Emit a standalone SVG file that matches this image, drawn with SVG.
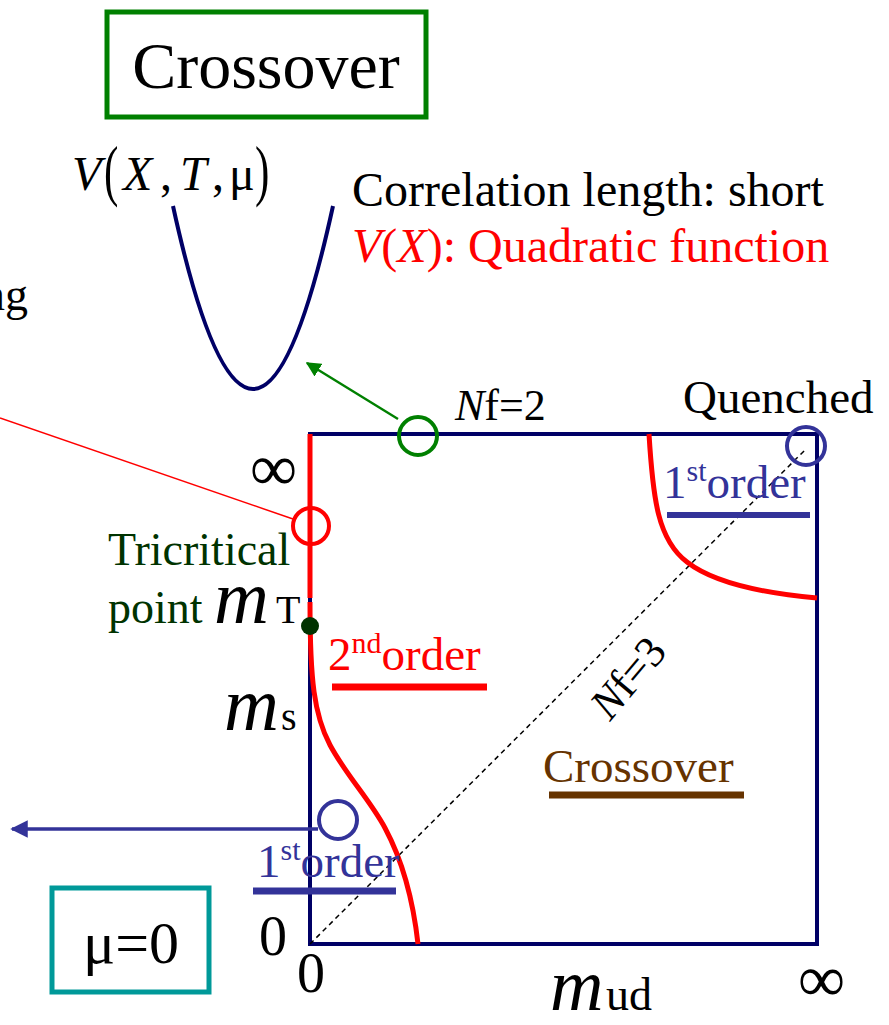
<svg xmlns="http://www.w3.org/2000/svg" width="889" height="1025" viewBox="0 0 889 1025">
<defs>
<style>
text{font-family:"Liberation Serif","Times New Roman",serif;}
.it{font-style:italic;}
.navy{fill:none;stroke:#000066;stroke-width:4;}
.redc{fill:none;stroke:#ff0000;stroke-width:5;}
.ring{fill:none;stroke-width:4;}
</style>
<marker id="ahBlue" viewBox="0 0 10 10" refX="9" refY="5" markerWidth="5" markerHeight="5" orient="auto" markerUnits="strokeWidth"><path d="M0,0 L10,5 L0,10 z" fill="#333399"/></marker>
<marker id="ahGreen" viewBox="0 0 10 10" refX="9" refY="5" markerWidth="6" markerHeight="6" orient="auto" markerUnits="strokeWidth"><path d="M0,0 L10,5 L0,10 z" fill="#008000"/></marker>
</defs>
<rect width="889" height="1025" fill="#fff"/>

<g id="crossover-box">
<rect x="107" y="12" width="319" height="105" fill="none" stroke="#008000" stroke-width="5"/>
<text x="266" y="88" font-size="66" text-anchor="middle">Crossover</text>
</g>

<g id="potential">
<text x="72" y="190" font-size="48" class="it">V</text>
<text font-size="48" transform="translate(104,193) scale(0.9,1.4)">(</text>
<text x="123" y="190" font-size="48" class="it">X</text>
<text x="160" y="190" font-size="48">,</text>
<text x="180" y="190" font-size="48" class="it">T</text>
<text x="212" y="190" font-size="48">,</text>
<text x="229" y="190" font-size="48">μ</text>
<text font-size="48" transform="translate(255,193) scale(0.9,1.4)">)</text>
<path d="M173,206 Q253,572 333,206" class="navy"/>
</g>

<g id="description">
<text x="352" y="206" font-size="48">Correlation length: short</text>
<text x="352" y="262" font-size="48" fill="#ff0000"><tspan class="it">V</tspan>(<tspan class="it">X</tspan>): Quadratic function</text>
</g>

<g id="cut-label">
<text x="28" y="310" font-size="46" text-anchor="end">ng</text>
</g>

<g id="phase-square">
<rect x="310" y="434" width="507" height="510" class="navy"/>
<line x1="310" y1="944" x2="805" y2="450" stroke="#000" stroke-width="1.5" stroke-dasharray="5,4"/>
<path d="M310,434 L310,598" class="redc"/>
<path d="M310,602 C310,680 314,715 330,745 S370,800 385,828 S412,890 418,944" class="redc"/>
<path d="M649,434 C653,500 658,540 687,562 C710,580 750,592 817,598" class="redc"/>
</g>

<g id="connectors">
<line x1="0" y1="418" x2="293" y2="519" stroke="#ff0000" stroke-width="1.5"/>
<line x1="398" y1="419" x2="307" y2="363" stroke="#008000" stroke-width="2.5" marker-end="url(#ahGreen)"/>
<line x1="318" y1="829" x2="12" y2="829" stroke="#333399" stroke-width="3.5" marker-end="url(#ahBlue)"/>
</g>

<g id="circles">
<circle cx="418" cy="436" r="19" class="ring" stroke="#008000"/>
<circle cx="311" cy="526" r="18" class="ring" stroke="#ff0000"/>
<circle cx="806" cy="446" r="19" class="ring" stroke="#333399"/>
<circle cx="338" cy="820" r="19" class="ring" stroke="#333399"/>
</g>

<g id="nf2-label">
<text x="455" y="420" font-size="44"><tspan class="it">N</tspan>f=2</text>
</g>

<g id="quenched-label">
<text x="683" y="413" font-size="47">Quenched</text>
</g>

<g id="first-order-top">
<text x="663" y="498" font-size="47" fill="#333399">1<tspan font-size="30" dy="-17">st</tspan><tspan dy="17">order</tspan></text>
<line x1="667" y1="515" x2="810" y2="515" stroke="#333399" stroke-width="6"/>
</g>

<g id="tricritical">
<text x="108" y="565" font-size="46" fill="#003300">Tricritical</text>
<text x="108" y="623" font-size="46" fill="#003300">point</text>
<text x="214" y="623" font-size="76" class="it">m</text>
<text x="276" y="623" font-size="40">T</text>
<circle cx="310" cy="626" r="9" fill="#003300"/>
</g>

<g id="second-order">
<text x="328" y="670" font-size="47" fill="#ff0000">2<tspan font-size="30" dy="-17">nd</tspan><tspan dy="17">order</tspan></text>
<line x1="332" y1="687" x2="487" y2="687" stroke="#ff0000" stroke-width="7"/>
</g>

<g id="ms-label">
<text x="224" y="730" font-size="76" class="it">m</text>
<text x="281" y="730" font-size="40">s</text>
</g>

<g id="nf3-label">
<text x="610" y="722" font-size="44" transform="rotate(-50 610 722)"><tspan class="it">N</tspan>f=3</text>
</g>

<g id="crossover-region">
<text x="543" y="782" font-size="47" fill="#663300">Crossover</text>
<line x1="549" y1="795" x2="744" y2="795" stroke="#663300" stroke-width="7"/>
</g>

<g id="first-order-bottom">
<text x="257" y="877" font-size="47" fill="#333399">1<tspan font-size="30" dy="-17">st</tspan><tspan dy="17">order</tspan></text>
<line x1="253" y1="891" x2="396" y2="891" stroke="#333399" stroke-width="7"/>
</g>

<g id="mu-box">
<rect x="52" y="888" width="157" height="104" fill="none" stroke="#009999" stroke-width="5"/>
<text x="131" y="963" font-size="60" text-anchor="middle">μ=0</text>
</g>

<g id="axis-labels">
<text x="250" y="490" font-size="66">∞</text>
<text x="259" y="955" font-size="56">0</text>
<text x="297" y="992" font-size="56">0</text>
<text x="550" y="1010" font-size="74" class="it">m</text>
<text x="606" y="1010" font-size="46">ud</text>
<text x="798" y="1001" font-size="66">∞</text>
</g>
</svg>
